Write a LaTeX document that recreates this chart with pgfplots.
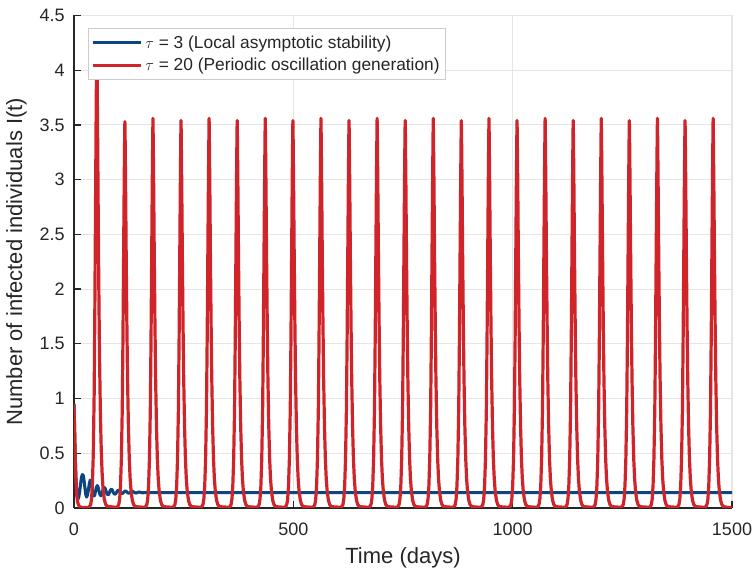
\documentclass[border=0pt]{standalone}
\usepackage{pgfplots}
\pgfplotsset{compat=1.18}
\usepackage{fontspec}
\setmainfont{Liberation Sans}
\definecolor{tauthree}{RGB}{12,70,128}
\definecolor{tautwenty}{RGB}{206,36,42}
\definecolor{axgray}{RGB}{38,38,38}

\begin{document}
\begin{tikzpicture}
\begin{axis}[
    scale only axis,
    width=493.5pt, height=369.4pt,
    xmin=0, xmax=1500, ymin=0, ymax=4.5,
    xtick={0,500,1000,1500},
    ytick={0,0.5,1,1.5,2,2.5,3,3.5,4,4.5},
    axis lines*=left,
    axis line style={draw=axgray, line width=1.1pt},
    tick align=inside, major tick length=5pt,
    tick style={draw=axgray, line width=0.9pt},
    grid=major,
    major grid style={draw=black!10, line width=0.8pt},
    /pgf/number format/assume math mode=true,
    /pgf/number format/1000 sep={},
    ticklabel style={font=\fontsize{13.5}{16}\selectfont, text=axgray},
    yticklabel style={inner sep=0pt, xshift=-6.75pt},
    xticklabel style={inner sep=0pt, yshift=-11.25pt},
    xlabel={Time (days)},
    ylabel={Number of infected individuals I(t)},
    label style={font=\fontsize{16.5}{19}\selectfont, text=axgray, inner sep=0pt},
    xlabel style={at={(axis description cs:0.5,-0.079)}, anchor=north},
    ylabel style={at={(axis description cs:-0.0714,0.5)}, anchor=south},
    legend style={at={(axis description cs:0.0208,0.974)}, anchor=north west,
        draw=black!20, fill=white, line width=0.8pt,
        font=\fontsize{13}{15}\selectfont, text=axgray,
        inner xsep=2.5pt, inner ysep=3pt, row sep=2pt,
        cells={anchor=west}},
    legend image code/.code={\draw[#1] (0pt,0pt) -- (36pt,0pt);},
    every axis plot/.append style={line join=round},
]
% tau = 3: damped oscillation to the endemic level
\addplot[tauthree, line width=2.3pt] coordinates {
(0,0.95)(1.5,0.7)(3,0.45)(4.5,0.27)(6,0.16)(7.5,0.1)(9,0.08)(11,0.1)(13,0.15)(15,0.22)
(17,0.28)(19,0.305)(21,0.3)(23,0.25)(25,0.18)(27,0.12)(29,0.1)(31,0.12)(33,0.17)(35,0.225)
(37,0.255)(39,0.235)(41,0.185)(43,0.135)(45,0.11)(47,0.115)(49,0.15)(51,0.19)(53,0.205)(55,0.19)
(57,0.155)(59,0.125)(61,0.112)(63,0.12)(65,0.15)(67,0.178)(69,0.188)(71,0.178)(73,0.155)(75,0.13)
(77,0.12)(79,0.125)(81,0.143)(83,0.163)(85,0.172)(87,0.165)(89,0.148)(91,0.132)(93,0.126)(95,0.13)
(97,0.143)(99,0.156)(101,0.163)(103,0.158)(105,0.147)(107,0.136)(109,0.132)(111,0.134)(113,0.142)(115,0.151)
(117,0.155)(119,0.152)(121,0.145)(123,0.138)(125,0.135)(127,0.137)(129,0.142)(131,0.148)(133,0.151)(135,0.149)
(137,0.144)(139,0.139)(141,0.137)(143,0.138)(145,0.142)(147,0.145)(149,0.146)(151,0.144)(153,0.141)(156,0.139)
(160,0.14)(170,0.141)(200,0.14)(1500,0.14)
};
\addlegendentry{$\tau$ = 3 (Local asymptotic stability)}
% tau = 20: sustained periodic outbreaks
\addplot[tautwenty, line width=2.4pt] coordinates {
(0,0.95)(1,0.78)(2,0.6)(3,0.44)(4,0.3)(5,0.2)(6,0.13)(8,0.06)(10,0.03)(13,0.012)(18,0.005)(26,0.004)
(34,0.006)(38,0.03)(40,0.08)(42,0.22)(44,0.5)(46,1.05)(47.5,1.8)(49,2.7)(50.5,3.6)(51.5,4.1)(52,4.3)(52.5,4.1)(53.5,3.6)(55,2.8)(56.5,2.05)(58,1.45)(60,0.9)(62,0.55)(64,0.33)(66,0.19)(69,0.08)(72,0.035)(76,0.014)
(98,0.006)(102,0.03)(104,0.08)(106,0.2)(108,0.45)(110,0.9)(111.5,1.5)(113,2.25)(114.5,3.0)(115.5,3.4)(116,3.53)(116.5,3.4)(117.5,3.0)(119,2.3)(120.5,1.7)(122,1.2)(124,0.75)(126,0.45)(128,0.27)(130,0.16)(133,0.07)(136,0.03)(140,0.012)
(162,0.006)(166,0.03)(168,0.08)(170,0.2)(172,0.45)(174,0.9)(175.5,1.5)(177,2.25)(178.5,3.0)(179.5,3.4)(180,3.56)(180.5,3.4)(181.5,3.0)(183,2.3)(184.5,1.7)(186,1.2)(188,0.75)(190,0.45)(192,0.27)(194,0.16)(197,0.07)(200,0.03)(204,0.012)
(226,0.006)(230,0.03)(232,0.08)(234,0.2)(236,0.45)(238,0.9)(239.5,1.5)(241,2.25)(242.5,3.0)(243.5,3.4)(244,3.54)(244.5,3.4)(245.5,3.0)(247,2.3)(248.5,1.7)(250,1.2)(252,0.75)(254,0.45)(256,0.27)(258,0.16)(261,0.07)(264,0.03)(268,0.012)
(290,0.006)(294,0.03)(296,0.08)(298,0.2)(300,0.45)(302,0.9)(303.5,1.5)(305,2.25)(306.5,3.0)(307.5,3.4)(308,3.56)(308.5,3.4)(309.5,3.0)(311,2.3)(312.5,1.7)(314,1.2)(316,0.75)(318,0.45)(320,0.27)(322,0.16)(325,0.07)(328,0.03)(332,0.012)
(354,0.006)(358,0.03)(360,0.08)(362,0.2)(364,0.45)(366,0.9)(367.5,1.5)(369,2.25)(370.5,3.0)(371.5,3.4)(372,3.54)(372.5,3.4)(373.5,3.0)(375,2.3)(376.5,1.7)(378,1.2)(380,0.75)(382,0.45)(384,0.27)(386,0.16)(389,0.07)(392,0.03)(396,0.012)
(418,0.006)(422,0.03)(424,0.08)(426,0.2)(428,0.45)(430,0.9)(431.5,1.5)(433,2.25)(434.5,3.0)(435.5,3.4)(436,3.56)(436.5,3.4)(437.5,3.0)(439,2.3)(440.5,1.7)(442,1.2)(444,0.75)(446,0.45)(448,0.27)(450,0.16)(453,0.07)(456,0.03)(460,0.012)
(481,0.006)(485,0.03)(487,0.08)(489,0.2)(491,0.45)(493,0.9)(494.5,1.5)(496,2.25)(497.5,3.0)(498.5,3.4)(499,3.54)(499.5,3.4)(500.5,3.0)(502,2.3)(503.5,1.7)(505,1.2)(507,0.75)(509,0.45)(511,0.27)(513,0.16)(516,0.07)(519,0.03)(523,0.012)
(545,0.006)(549,0.03)(551,0.08)(553,0.2)(555,0.45)(557,0.9)(558.5,1.5)(560,2.25)(561.5,3.0)(562.5,3.4)(563,3.56)(563.5,3.4)(564.5,3.0)(566,2.3)(567.5,1.7)(569,1.2)(571,0.75)(573,0.45)(575,0.27)(577,0.16)(580,0.07)(583,0.03)(587,0.012)
(609,0.006)(613,0.03)(615,0.08)(617,0.2)(619,0.45)(621,0.9)(622.5,1.5)(624,2.25)(625.5,3.0)(626.5,3.4)(627,3.54)(627.5,3.4)(628.5,3.0)(630,2.3)(631.5,1.7)(633,1.2)(635,0.75)(637,0.45)(639,0.27)(641,0.16)(644,0.07)(647,0.03)(651,0.012)
(673,0.006)(677,0.03)(679,0.08)(681,0.2)(683,0.45)(685,0.9)(686.5,1.5)(688,2.25)(689.5,3.0)(690.5,3.4)(691,3.56)(691.5,3.4)(692.5,3.0)(694,2.3)(695.5,1.7)(697,1.2)(699,0.75)(701,0.45)(703,0.27)(705,0.16)(708,0.07)(711,0.03)(715,0.012)
(737,0.006)(741,0.03)(743,0.08)(745,0.2)(747,0.45)(749,0.9)(750.5,1.5)(752,2.25)(753.5,3.0)(754.5,3.4)(755,3.54)(755.5,3.4)(756.5,3.0)(758,2.3)(759.5,1.7)(761,1.2)(763,0.75)(765,0.45)(767,0.27)(769,0.16)(772,0.07)(775,0.03)(779,0.012)
(801,0.006)(805,0.03)(807,0.08)(809,0.2)(811,0.45)(813,0.9)(814.5,1.5)(816,2.25)(817.5,3.0)(818.5,3.4)(819,3.56)(819.5,3.4)(820.5,3.0)(822,2.3)(823.5,1.7)(825,1.2)(827,0.75)(829,0.45)(831,0.27)(833,0.16)(836,0.07)(839,0.03)(843,0.012)
(865,0.006)(869,0.03)(871,0.08)(873,0.2)(875,0.45)(877,0.9)(878.5,1.5)(880,2.25)(881.5,3.0)(882.5,3.4)(883,3.54)(883.5,3.4)(884.5,3.0)(886,2.3)(887.5,1.7)(889,1.2)(891,0.75)(893,0.45)(895,0.27)(897,0.16)(900,0.07)(903,0.03)(907,0.012)
(928,0.006)(932,0.03)(934,0.08)(936,0.2)(938,0.45)(940,0.9)(941.5,1.5)(943,2.25)(944.5,3.0)(945.5,3.4)(946,3.56)(946.5,3.4)(947.5,3.0)(949,2.3)(950.5,1.7)(952,1.2)(954,0.75)(956,0.45)(958,0.27)(960,0.16)(963,0.07)(966,0.03)(970,0.012)
(992,0.006)(996,0.03)(998,0.08)(1000,0.2)(1002,0.45)(1004,0.9)(1005.5,1.5)(1007,2.25)(1008.5,3.0)(1009.5,3.4)(1010,3.54)(1010.5,3.4)(1011.5,3.0)(1013,2.3)(1014.5,1.7)(1016,1.2)(1018,0.75)(1020,0.45)(1022,0.27)(1024,0.16)(1027,0.07)(1030,0.03)(1034,0.012)
(1056,0.006)(1060,0.03)(1062,0.08)(1064,0.2)(1066,0.45)(1068,0.9)(1069.5,1.5)(1071,2.25)(1072.5,3.0)(1073.5,3.4)(1074,3.56)(1074.5,3.4)(1075.5,3.0)(1077,2.3)(1078.5,1.7)(1080,1.2)(1082,0.75)(1084,0.45)(1086,0.27)(1088,0.16)(1091,0.07)(1094,0.03)(1098,0.012)
(1120,0.006)(1124,0.03)(1126,0.08)(1128,0.2)(1130,0.45)(1132,0.9)(1133.5,1.5)(1135,2.25)(1136.5,3.0)(1137.5,3.4)(1138,3.54)(1138.5,3.4)(1139.5,3.0)(1141,2.3)(1142.5,1.7)(1144,1.2)(1146,0.75)(1148,0.45)(1150,0.27)(1152,0.16)(1155,0.07)(1158,0.03)(1162,0.012)
(1184,0.006)(1188,0.03)(1190,0.08)(1192,0.2)(1194,0.45)(1196,0.9)(1197.5,1.5)(1199,2.25)(1200.5,3.0)(1201.5,3.4)(1202,3.56)(1202.5,3.4)(1203.5,3.0)(1205,2.3)(1206.5,1.7)(1208,1.2)(1210,0.75)(1212,0.45)(1214,0.27)(1216,0.16)(1219,0.07)(1222,0.03)(1226,0.012)
(1248,0.006)(1252,0.03)(1254,0.08)(1256,0.2)(1258,0.45)(1260,0.9)(1261.5,1.5)(1263,2.25)(1264.5,3.0)(1265.5,3.4)(1266,3.54)(1266.5,3.4)(1267.5,3.0)(1269,2.3)(1270.5,1.7)(1272,1.2)(1274,0.75)(1276,0.45)(1278,0.27)(1280,0.16)(1283,0.07)(1286,0.03)(1290,0.012)
(1312,0.006)(1316,0.03)(1318,0.08)(1320,0.2)(1322,0.45)(1324,0.9)(1325.5,1.5)(1327,2.25)(1328.5,3.0)(1329.5,3.4)(1330,3.56)(1330.5,3.4)(1331.5,3.0)(1333,2.3)(1334.5,1.7)(1336,1.2)(1338,0.75)(1340,0.45)(1342,0.27)(1344,0.16)(1347,0.07)(1350,0.03)(1354,0.012)
(1375,0.006)(1379,0.03)(1381,0.08)(1383,0.2)(1385,0.45)(1387,0.9)(1388.5,1.5)(1390,2.25)(1391.5,3.0)(1392.5,3.4)(1393,3.54)(1393.5,3.4)(1394.5,3.0)(1396,2.3)(1397.5,1.7)(1399,1.2)(1401,0.75)(1403,0.45)(1405,0.27)(1407,0.16)(1410,0.07)(1413,0.03)(1417,0.012)
(1439,0.006)(1443,0.03)(1445,0.08)(1447,0.2)(1449,0.45)(1451,0.9)(1452.5,1.5)(1454,2.25)(1455.5,3.0)(1456.5,3.4)(1457,3.56)(1457.5,3.4)(1458.5,3.0)(1460,2.3)(1461.5,1.7)(1463,1.2)(1465,0.75)(1467,0.45)(1469,0.27)(1471,0.16)(1474,0.07)(1477,0.03)(1481,0.012)
(1490,0.006)(1500,0.005)
};
\addlegendentry{$\tau$ = 20 (Periodic oscillation generation)}
\end{axis}
\path (current axis.south west) +(-55.5pt,-49.5pt);
\path (current axis.north east) +(15.75pt,11.6pt);
\end{tikzpicture}
\end{document}
